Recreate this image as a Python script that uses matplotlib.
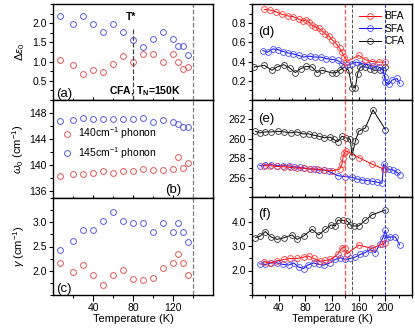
import matplotlib
matplotlib.use("Agg")
import matplotlib.pyplot as plt
from matplotlib.ticker import MultipleLocator

plt.rcParams['font.family'] = ['Liberation Sans', 'DejaVu Sans']
plt.rcParams['mathtext.fontset'] = 'custom'
plt.rcParams['mathtext.rm'] = 'Liberation Sans'
plt.rcParams['mathtext.it'] = 'Liberation Sans:italic'

# ---- left column: CFA phonons ----
T_left = [7, 20, 30, 40, 50, 60, 70, 80, 90, 100, 110, 120, 125, 130, 135]
deps_140 = [1.05, 0.90, 0.69, 0.78, 0.74, 0.94, 1.14, 1.00, 1.21, 1.21, 1.00, 1.21, 1.00, 0.80, 0.85]
deps_145 = [2.20, 1.98, 2.20, 1.98, 1.77, 1.98, 1.77, 1.57, 1.38, 1.59, 1.78, 1.59, 1.40, 1.40, 1.18]
w_140 = [138.3, 138.6, 138.6, 138.8, 139.1, 138.9, 139.2, 139.1, 139.4, 139.3, 139.3, 139.5, 141.2, 139.6, 140.3]
w_145 = [146.8, 147.0, 147.2, 147.1, 147.1, 147.1, 147.1, 147.1, 147.3, 146.6, 147.0, 146.6, 146.4, 145.8, 145.8]
g_140 = [2.16, 1.97, 2.12, 1.91, 1.71, 1.91, 2.02, 1.82, 1.80, 1.86, 2.06, 2.16, 2.34, 2.15, 1.92]
g_145 = [2.43, 2.62, 2.83, 2.83, 3.03, 3.22, 3.03, 2.99, 2.99, 2.79, 2.99, 2.79, 2.99, 2.79, 2.59]

# ---- right column: BFA / SFA / CFA ----
T_bfa_d = [18.5, 27.5, 36.5, 45, 53.5, 61.5, 70, 76.5, 81.5, 85, 90, 95, 100, 105, 110, 115, 120,
           126.5, 131.5, 135, 138.5, 141.5, 160, 170, 180, 190, 200]
bfa_d = [0.944, 0.937, 0.917, 0.893, 0.876, 0.869, 0.841, 0.824, 0.834, 0.814, 0.779, 0.762, 0.745,
         0.721, 0.687, 0.670, 0.629, 0.584, 0.539, 0.498, 0.447, 0.40, 0.464, 0.42, 0.40, 0.395, 0.395]
T_sfa_d = [16.5, 23.5, 31.5, 38.5, 46.5, 53.5, 61.5, 70, 77.5, 86.5, 95, 103.5, 111.5, 120, 128.5,
           135, 142.5, 150, 156.5, 165, 173.5, 181.5, 190, 196.5, 199, 200, 205, 210, 217.5, 221.5]
sfa_d = [0.515, 0.498, 0.532, 0.526, 0.505, 0.491, 0.481, 0.464, 0.447, 0.457, 0.447, 0.447, 0.430,
         0.423, 0.413, 0.378, 0.361, 0.378, 0.395, 0.378, 0.368, 0.354, 0.344, 0.31, 0.241, 0.19,
         0.162, 0.207, 0.224, 0.172]
T_cfa_d = [3.5, 18.5, 30, 37.5, 47.5, 56.5, 65, 73.5, 81.5, 90, 97.5, 105, 120, 126.5, 131.5, 138.5,
           145, 150, 155, 158.5, 162.5, 170, 177.5, 183.5, 192.5, 200]
cfa_d = [0.344, 0.361, 0.310, 0.344, 0.368, 0.334, 0.286, 0.327, 0.351, 0.344, 0.286, 0.310, 0.282,
         0.286, 0.31, 0.344, 0.31, 0.128, 0.128, 0.275, 0.344, 0.344, 0.327, 0.31, 0.31, 0.344]

T_cfa_e = [5, 11.5, 20, 28.5, 38.5, 48.5, 58.5, 67.5, 76.5, 85, 92.5, 100, 108.5, 117.5, 122.5, 128.5,
           135, 141.5, 147.5, 150, 155, 160, 170, 181.5, 200]
cfa_e = [260.78, 260.61, 260.71, 260.71, 260.78, 260.71, 260.61, 260.71, 260.51, 260.51, 260.37,
         260.27, 260.10, 260.17, 259.93, 259.69, 260.27, 260.10, 259.93, 258.24, 259.76, 260.78,
         261.12, 262.98, 260.95]
T_bfa_e = [17.5, 27.5, 37.5, 47.5, 57.5, 67.5, 77.5, 87.5, 97.5, 107.5, 120, 131.5, 135, 136.5, 138.5,
           141.5, 160, 180, 197.5]
bfa_e = [257.22, 257.22, 257.15, 257.12, 257.05, 256.98, 256.98, 256.88, 256.88, 256.78, 256.71,
         256.88, 257.39, 258.07, 258.58, 258.75, 258.07, 257.39, 256.88]
T_sfa_e = [11.5, 20, 28.5, 37.5, 46.5, 55, 62.5, 71.5, 78.5, 86.5, 93.5, 100, 108.5, 115, 128.5, 140,
           150, 157.5, 165, 172.5, 180, 187.5, 195, 197.5, 200, 205, 211.5, 217.5, 221.5]
sfa_e = [257.22, 257.32, 257.32, 257.22, 257.22, 257.22, 257.12, 257.05, 256.98, 256.88, 256.88,
         256.78, 256.78, 256.64, 256.20, 256.10, 256.03, 255.86, 255.76, 255.69, 255.63, 255.53,
         255.42, 257.39, 256.88, 256.88, 256.78, 256.54, 256.31]

T_cfa_f = [5, 12.5, 20, 28.5, 37.5, 48.5, 60, 67.5, 77.5, 90, 100, 110, 118.5, 125, 128.5, 136.5,
           142.5, 147.5, 152.5, 160, 170, 180, 200]
cfa_f = [3.34, 3.41, 3.59, 3.37, 3.27, 3.34, 3.45, 3.27, 3.41, 3.68, 3.45, 3.68, 3.86, 3.82, 4.05,
         4.05, 4.03, 3.86, 3.82, 3.82, 4.05, 4.27, 4.47]
T_bfa_f = [17.5, 27.5, 37.5, 47.5, 57.5, 67.5, 77.5, 85, 92.5, 102.5, 110, 117.5, 128.5, 135, 140,
           142.5, 160, 180, 195, 200]
bfa_f = [2.36, 2.31, 2.38, 2.45, 2.49, 2.49, 2.55, 2.59, 2.49, 2.38, 2.41, 2.45, 2.66, 2.93, 2.93,
         2.68, 3.04, 2.90, 3.07, 3.14]
T_sfa_f = [11.5, 20, 28.5, 37.5, 46.5, 55, 62.5, 70, 77.5, 83.5, 92.5, 100, 107.5, 116.5, 125, 132.5,
           140, 147.5, 155, 162.5, 170, 177.5, 185, 191.5, 196.5, 200, 202.5, 207.5, 215, 221.5]
sfa_f = [2.27, 2.25, 2.31, 2.31, 2.25, 2.22, 2.31, 2.14, 2.08, 2.22, 2.31, 2.25, 2.22, 2.31, 2.45,
         2.52, 2.45, 2.49, 2.55, 2.66, 2.73, 2.86, 2.73, 3.07, 3.34, 3.64, 3.34, 3.37, 3.37, 3.04]

red_l, blue_l = '#e05858', '#5a5ae0'

fig = plt.figure(figsize=(4.15, 3.34), dpi=100)
W, H = 415, 334


def box(x0, y0, x1, y1):
    return [x0 / W, 1 - y1 / H, (x1 - x0) / W, (y1 - y0) / H]


ax_a = fig.add_axes(box(53, 4, 213, 100))
ax_b = fig.add_axes(box(53, 100, 213, 198))
ax_c = fig.add_axes(box(53, 198, 213, 295))
ax_d = fig.add_axes(box(252, 4, 412, 100))
ax_e = fig.add_axes(box(252, 100, 412, 197))
ax_f = fig.add_axes(box(252, 197, 412, 295))

mk = dict(ls='none', marker='o', mfc='none', ms=4.2, mew=0.7)
for ax, y1, y2 in [(ax_a, deps_140, deps_145), (ax_b, w_140, w_145), (ax_c, g_140, g_145)]:
    ax.plot(T_left, y1, mec=red_l, label='140cm$^{-1}$ phonon', **mk)
    ax.plot(T_left, y2, mec=blue_l, label='145cm$^{-1}$ phonon', **mk)
    ax.axvline(140, color='gray', ls='--', lw=0.9)
    ax.set_xlim(0, 160)
    ax.set_xticks([40, 80, 120])
    ax.set_xticks([20, 60, 100, 140], minor=True)

ax_a.set_ylim(0, 2.5)
ax_a.set_yticks([0.5, 1.0, 1.5, 2.0])
ax_a.yaxis.set_minor_locator(MultipleLocator(0.25))
ax_a.set_ylabel(r'$\Delta\varepsilon_0$', fontsize=8, labelpad=4)
ax_a.plot([80, 80], [0, 1.88], color='#444444', ls='--', lw=0.9)
ax_a.text(78, 2.15, 'T*', fontsize=7.5, fontweight='bold', ha='center', va='center')
ax_a.text(0.02, 0.03, '(a)', transform=ax_a.transAxes, fontsize=9.5)
ax_a.text(0.80, 0.06, 'CFA, T$_\\mathregular{N}$=150K', transform=ax_a.transAxes,
          fontsize=7.5, fontweight='bold', ha='right')

ax_b.set_ylim(135, 150)
ax_b.set_yticks([136, 140, 144, 148])
ax_b.yaxis.set_minor_locator(MultipleLocator(2))
ax_b.set_ylabel(r'$\omega_0$ (cm$^{-1}$)', fontsize=8, labelpad=2)
ax_b.text(0.70, 0.05, '(b)', transform=ax_b.transAxes, fontsize=9.5)
ax_b.legend(loc='center left', bbox_to_anchor=(-0.02, 0.56), frameon=False, fontsize=7.5,
            handletextpad=0.3, labelspacing=0.35, handlelength=1.5)

ax_c.set_ylim(1.5, 3.5)
ax_c.set_yticks([2.0, 2.5, 3.0])
ax_c.yaxis.set_minor_locator(MultipleLocator(0.25))
ax_c.set_ylabel(r'$\gamma$ (cm$^{-1}$)', fontsize=8, labelpad=4)
ax_c.text(0.02, 0.03, '(c)', transform=ax_c.transAxes, fontsize=9.5)
ax_c.set_xlabel('Temperature (K)', fontsize=8, labelpad=1)

mr = dict(marker='o', mfc='none', ms=4.2, mew=0.6, lw=0.7)
series = [
    (ax_d, T_bfa_d, bfa_d, T_sfa_d, sfa_d, T_cfa_d, cfa_d),
    (ax_e, T_bfa_e, bfa_e, T_sfa_e, sfa_e, T_cfa_e, cfa_e),
    (ax_f, T_bfa_f, bfa_f, T_sfa_f, sfa_f, T_cfa_f, cfa_f),
]
for ax, tb, yb, ts, ys, tc, yc in series:
    ax.plot(tc, yc, color='black', mec='#333333', label='CFA', **mr)
    ax.plot(ts, ys, color='#0000ff', mec='#4848ff', label='SFA', **mr)
    ax.plot(tb, yb, color='#ff0000', mec='#ff3838', label='BFA', **mr)
    ax.axvline(140, color='#ff5050', ls='--', lw=0.9)
    ax.axvline(150, color='#555555', ls='--', lw=0.7)
    ax.axvline(200, color='#3030ff', ls='--', lw=0.7)
    ax.set_xlim(0, 240)
    ax.set_xticks([40, 80, 120, 160, 200])
    ax.xaxis.set_minor_locator(MultipleLocator(20))

ax_d.set_ylim(0, 1.0)
ax_d.set_yticks([0.2, 0.4, 0.6, 0.8])
ax_d.yaxis.set_minor_locator(MultipleLocator(0.1))
ax_d.text(0.04, 0.68, '(d)', transform=ax_d.transAxes, fontsize=9.5)
h, l = ax_d.get_legend_handles_labels()
ax_d.legend(h[::-1], l[::-1], loc='upper right', frameon=False, fontsize=7.5,
            handlelength=2.2, handletextpad=0.3, labelspacing=0.25, borderaxespad=0.3)

ax_e.set_ylim(254, 264)
ax_e.set_yticks([256, 258, 260, 262])
ax_e.yaxis.set_minor_locator(MultipleLocator(1))
ax_e.text(0.04, 0.77, '(e)', transform=ax_e.transAxes, fontsize=9.5)

ax_f.set_ylim(1.0, 5.0)
ax_f.set_yticks([2.0, 3.0, 4.0])
ax_f.set_yticklabels(['2.0', '3.0', '4.0'])
ax_f.yaxis.set_minor_locator(MultipleLocator(0.5))
ax_f.text(0.04, 0.80, '(f)', transform=ax_f.transAxes, fontsize=9.5)
ax_f.set_xlabel('Temperature (K)', fontsize=8, labelpad=1)

for ax in [ax_a, ax_b, ax_c, ax_d, ax_e, ax_f]:
    for s in ax.spines.values():
        s.set_linewidth(1.0)
    ax.tick_params(axis='y', which='major', direction='out', length=3, width=0.8, labelsize=7.5, pad=1.5)
    ax.tick_params(axis='y', which='minor', direction='out', length=2, width=0.7)
    ax.tick_params(axis='x', which='major', length=4, width=0.8, labelsize=7.5, pad=1.5)
    ax.tick_params(axis='x', which='minor', length=2.5, width=0.7)

for ax in [ax_a, ax_b, ax_d, ax_e]:
    ax.tick_params(axis='x', which='both', direction='inout', labelbottom=False)
for ax in [ax_c, ax_f]:
    ax.tick_params(axis='x', which='both', direction='out')

fig.savefig('out.png', dpi=100)
